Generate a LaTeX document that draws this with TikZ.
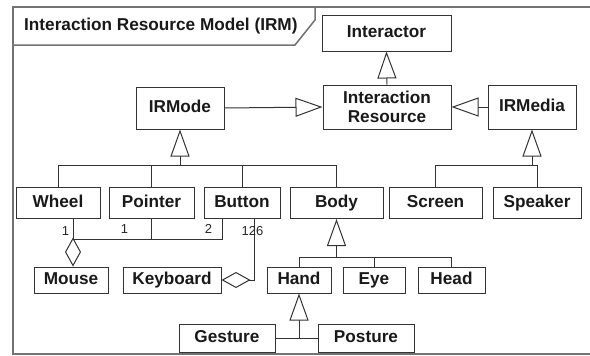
\documentclass[tikz,border=0pt]{standalone}
\usepackage{fontspec}
\setmainfont{Liberation Sans}
\usetikzlibrary{positioning,arrows.meta}

\begin{document}
\begin{tikzpicture} [
	x=1pt,y=-1pt,
	node distance=0pt,
	font=\fontsize{17.2}{19}\selectfont\bfseries,
	class/.style={
		rectangle,draw=black!80,fill=white,line width=1pt,
		inner sep=0pt,text=black!90,
		minimum height=31pt},
	row/.style={
		class,text height=12.5pt,text depth=3.5pt},
	low/.style={
		row,minimum height=26pt},
	mult/.style={
		font=\fontsize{13}{14}\selectfont,text=black!85,inner sep=0pt},
	frame/.style={
		draw=black!55,line width=1.5pt},
	link/.style={
		draw=black!80,line width=1pt},
	gen/.style={
		link,-{Triangle[open,length=27pt,width=19pt]}},
	agg/.style={
		link,-{Diamond[open,length=29pt,width=16pt]}}]
\useasboundingbox (0,0) rectangle (590,356);
\draw[frame] (590,7) -- (13,7) -- (13,354) -- (590,354);
\draw[frame] (13,45) -- (295,45) -- (315,20) -- (315,7);
\node [anchor=west,inner sep=0pt,text=black!90]	(title) at (24,26)	{Interaction Resource Model (IRM)};
\node [row,minimum width=129pt,minimum height=36pt]	(interactor) at (386.5,33)	{Interactor};
\node [class,minimum width=128pt,minimum height=44pt,align=center]	(interaction resource) at (387,107)	{Interaction\\Resource};
\node [row,minimum width=88pt,minimum height=42pt]	(irmode) at (180,108)	{IRMode};
\node [row,minimum width=88pt,minimum height=44pt]	(irmedia) at (532,107)	{IRMedia};
\node [row,minimum width=84pt]	(wheel) at (58,203)	{Wheel};
\node [row,minimum width=85pt]	(pointer) [right=8pt of wheel]	{Pointer};
\node [row,minimum width=76pt]	(button) [right=9pt of pointer]	{Button};
\node [row,minimum width=93pt]	(body) [right=9pt of button]	{Body};
\node [row,minimum width=93pt]	(screen) [right=5pt of body]	{Screen};
\node [row,minimum width=88pt]	(speaker) [right=10pt of screen]	{Speaker};
\node [low,minimum width=74pt]	(mouse) at (71,280)	{Mouse};
\node [low,minimum width=98pt]	(keyboard) [right=14pt of mouse]	{Keyboard};
\node [low,minimum width=64pt]	(hand) [right=45pt of keyboard]	{Hand};
\node [low,minimum width=62pt]	(eye) [right=11pt of hand]	{Eye};
\node [low,minimum width=67pt]	(head) [right=12pt of eye]	{Head};
\node [row,minimum width=96pt,minimum height=28pt]	(gesture) at (227,338)	{Gesture};
\node [row,minimum width=96pt,minimum height=28pt]	(posture) [right=42pt of gesture]	{Posture};
\path (irmode.south) ++(0,36) coordinate (mode bar);
\path (irmedia.south) ++(0,36) coordinate (media bar);
\path (body.south) ++(0,38.5) coordinate (body bar);
\path (wheel.south) ++(15,20) coordinate (mouse joint);
\coordinate (hand bar) at (hand.south |- gesture.east);
\draw[gen] (interaction resource.north) -- (interactor.south);
\draw[gen] (irmode.east) -- (interaction resource.west);
\draw[gen] (irmedia.west) -- (interaction resource.east);
\draw[gen] (mode bar) -- (irmode.south);
\draw[link] (wheel.north) |- (mode bar);
\draw[link] (pointer.north) |- (mode bar);
\draw[link] (button.north) |- (mode bar);
\draw[link] (body.north) |- (mode bar);
\draw[gen] (media bar) -- (irmedia.south);
\draw[link] (screen.north) |- (media bar);
\draw[link] (speaker.north) |- (media bar);
\draw[gen] (body bar) -- (body.south);
\draw[link] (hand.north) |- (body bar);
\draw[link] (eye.north) |- (body bar);
\draw[link] (head.north) |- (body bar);
\draw[gen] (hand bar) -- (hand.south);
\draw[link] (gesture.east) -- (posture.west);
\draw[agg] (mouse joint |- wheel.south) -- (mouse joint |- mouse.north);
\draw[link] (pointer.south) |- (mouse joint);
\draw[link] ([xshift=-20pt]button.south) |- (mouse joint);
\draw[agg] ([xshift=12pt]button.south) |- (keyboard.east);
\node [mult]	(wheel one) at (65.5,231)	{1};
\node [mult]	(pointer one) at (124.5,229)	{1};
\node [mult]	(button two) at (208.5,229)	{2};
\node [mult]	(button many) at (252.5,231)	{126};
\end{tikzpicture}
\end{document}
